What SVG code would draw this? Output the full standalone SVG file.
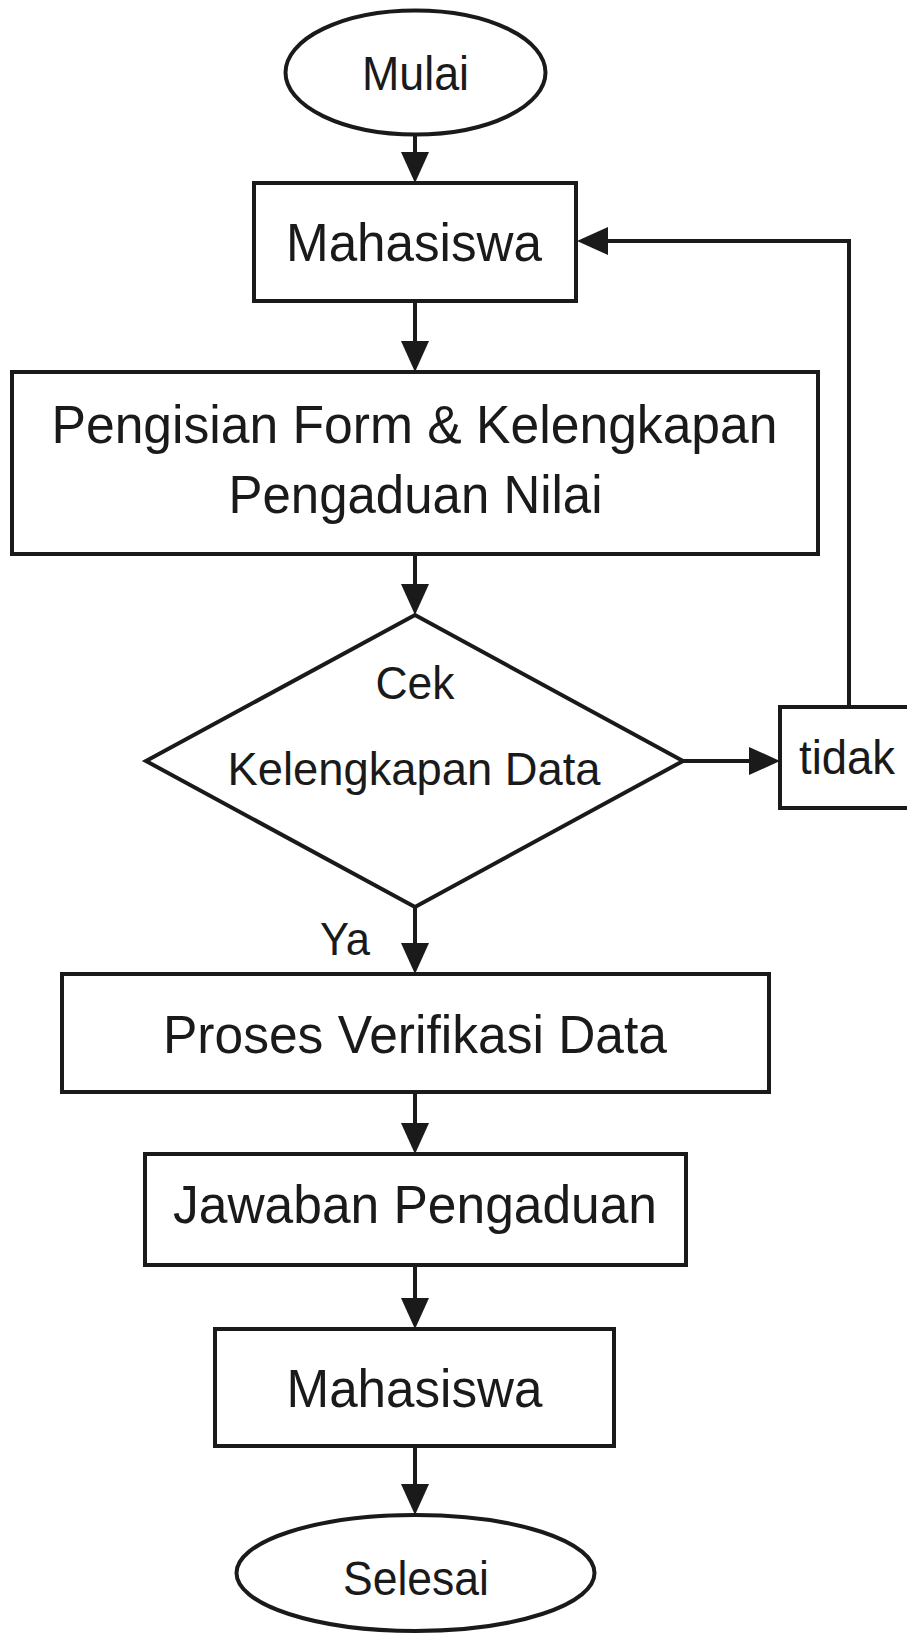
<svg xmlns="http://www.w3.org/2000/svg" width="907" height="1635" viewBox="0 0 907 1635">
<style>
  .shape { fill: #ffffff; stroke: #1a1a1a; stroke-width: 4; }
  .conn { fill: none; stroke: #1a1a1a; stroke-width: 4; }
  .lbl { font-family: "Liberation Sans", Arial, sans-serif; fill: #1a1a1a; text-anchor: middle; }
</style>
<defs>
  <marker id="arr" markerUnits="userSpaceOnUse" markerWidth="32" markerHeight="30" refX="21" refY="14" orient="auto">
    <path d="M0,0 L31,14 L0,28 z" fill="#1a1a1a"/>
  </marker>
</defs>
<rect width="907" height="1635" fill="#ffffff"/>
<g id="connectors">
  <path class="conn" d="M415,135 V173" marker-end="url(#arr)"/>
  <path class="conn" d="M415,301 V362" marker-end="url(#arr)"/>
  <path class="conn" d="M415,554 V605" marker-end="url(#arr)"/>
  <path class="conn" d="M683,761 H770" marker-end="url(#arr)"/>
  <path class="conn" d="M849,707 V241 H587" marker-end="url(#arr)"/>
  <path class="conn" d="M415,907 V964" marker-end="url(#arr)"/>
  <path class="conn" d="M415,1092 V1144" marker-end="url(#arr)"/>
  <path class="conn" d="M415,1265 V1319" marker-end="url(#arr)"/>
  <path class="conn" d="M415,1446 V1505" marker-end="url(#arr)"/>
  <text class="lbl" x="345" y="955" font-size="46" textLength="50" lengthAdjust="spacingAndGlyphs">Ya</text>
</g>
<g id="mulai">
  <ellipse class="shape" cx="415.5" cy="72.5" rx="130" ry="62"/>
  <text class="lbl" x="415.5" y="90" font-size="49" textLength="107" lengthAdjust="spacingAndGlyphs">Mulai</text>
</g>
<g id="mahasiswa1">
  <rect class="shape" x="254" y="183" width="322" height="118"/>
  <text class="lbl" x="414" y="261" font-size="54" textLength="256" lengthAdjust="spacingAndGlyphs">Mahasiswa</text>
</g>
<g id="pengisian">
  <rect class="shape" x="12" y="372" width="806" height="182"/>
  <text class="lbl" x="414.5" y="443" font-size="54" textLength="726" lengthAdjust="spacingAndGlyphs">Pengisian Form &amp; Kelengkapan</text>
  <text class="lbl" x="415.5" y="513" font-size="54" textLength="374" lengthAdjust="spacingAndGlyphs">Pengaduan Nilai</text>
</g>
<g id="cek">
  <polygon class="shape" points="415,615 683,761 415,907 146,761"/>
  <text class="lbl" x="415" y="699" font-size="47" textLength="79" lengthAdjust="spacingAndGlyphs">Cek</text>
  <text class="lbl" x="414" y="785" font-size="47" textLength="373" lengthAdjust="spacingAndGlyphs">Kelengkapan Data</text>
</g>
<g id="tidak">
  <rect class="shape" x="780" y="707" width="145" height="101"/>
  <text class="lbl" x="847" y="774" font-size="48" textLength="96" lengthAdjust="spacingAndGlyphs">tidak</text>
</g>
<g id="proses">
  <rect class="shape" x="62" y="974" width="707" height="118"/>
  <text class="lbl" x="415" y="1053" font-size="54" textLength="504" lengthAdjust="spacingAndGlyphs">Proses Verifikasi Data</text>
</g>
<g id="jawaban">
  <rect class="shape" x="145" y="1154" width="541" height="111"/>
  <text class="lbl" x="415" y="1223" font-size="54" textLength="484" lengthAdjust="spacingAndGlyphs">Jawaban Pengaduan</text>
</g>
<g id="mahasiswa2">
  <rect class="shape" x="215" y="1329" width="399" height="117"/>
  <text class="lbl" x="414.5" y="1407" font-size="54" textLength="256" lengthAdjust="spacingAndGlyphs">Mahasiswa</text>
</g>
<g id="selesai">
  <ellipse class="shape" cx="415.5" cy="1573" rx="179" ry="58"/>
  <text class="lbl" x="416" y="1595" font-size="48" textLength="146" lengthAdjust="spacingAndGlyphs">Selesai</text>
</g>
</svg>
